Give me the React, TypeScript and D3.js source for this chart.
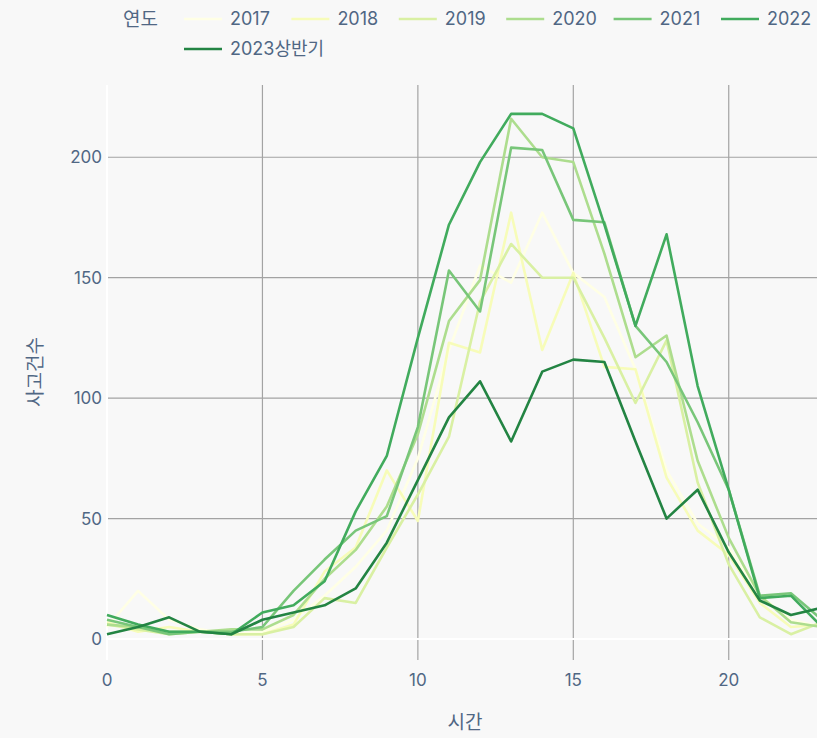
import React from "react";
import * as d3 from "d3";

const hours = d3.range(0, 24);
const years = ["2017", "2018", "2019", "2020", "2021", "2022", "2023상반기"];
const colors = ["#ffffe5", "#f7fcb9", "#d9f0a3", "#addd8e", "#78c679", "#41ab5d", "#238443"];

const v2017 = [5, 20, 8, 4, 2, 3, 8, 18, 30, 45, 75, 120, 155, 148, 177, 152, 142, 112, 70, 48, 38, 18, 8, 5];
const v2018 = [7, 3, 5, 3, 2, 2, 6, 28, 38, 70, 49, 123, 119, 177, 120, 152, 113, 112, 67, 45, 35, 15, 5, 6];
const v2019 = [6, 4, 2, 3, 2, 2, 5, 17, 15, 38, 60, 84, 140, 164, 150, 150, 125, 98, 124, 65, 31, 9, 2, 7];
const v2020 = [6, 5, 3, 3, 4, 4, 10, 25, 37, 55, 85, 132, 149, 216, 200, 198, 160, 117, 126, 74, 42, 18, 7, 5];
const v2021 = [8, 5, 2, 3, 3, 5, 20, 33, 45, 51, 88, 153, 136, 204, 203, 174, 173, 130, 115, 90, 62, 18, 19, 8];
const v2022 = [10, 6, 3, 3, 2, 11, 14, 24, 53, 76, 125, 172, 198, 218, 218, 212, 172, 130, 168, 105, 62, 17, 18, 5];
const v2023 = [2, 5, 9, 3, 2, 8, 11, 14, 21, 40, 66, 92, 107, 82, 111, 116, 115, 82, 50, 62, 36, 16, 10, 13];
const seriesValues = [v2017, v2018, v2019, v2020, v2021, v2022, v2023];

const xTicks = [0, 5, 10, 15, 20];
const yTicks = [0, 50, 100, 150, 200];

const W = 817;
const H = 738;
const FONT = "Inter, 'Noto Sans CJK KR', sans-serif";
const TXT = "#506784";

export default function App() {
  const x = d3.scaleLinear().domain([0, 23]).range([107, 822]);
  const y = d3.scaleLinear().domain([-8.7, 230]).range([660, 85]);
  const line = d3
    .line<number>()
    .x((_, i) => x(hours[i]))
    .y((d) => y(d));

  const legendRow1 = years.slice(0, 6);
  return (
    <div style={{ position: "fixed", left: 0, top: 0, width: W, height: H, overflow: "hidden", background: "#f8f8f8" }}>
      <svg width={W} height={H} style={{ display: "block", fontFamily: FONT }}>
        <rect x={0} y={0} width={W} height={H} fill="#f8f8f8" />
        {xTicks.filter((t) => t !== 0).map((t) => (
          <line key={"gx" + t} x1={x(t)} x2={x(t)} y1={85} y2={660} stroke="#a3a3a3" strokeWidth={1.2} />
        ))}
        {yTicks.filter((t) => t !== 0).map((t) => (
          <line key={"gy" + t} x1={107} x2={W} y1={y(t)} y2={y(t)} stroke="#a3a3a3" strokeWidth={1.2} />
        ))}
        <line x1={x(0)} x2={x(0)} y1={85} y2={660} stroke="#ffffff" strokeWidth={2} />
        <line x1={107} x2={W} y1={y(0)} y2={y(0)} stroke="#ffffff" strokeWidth={2} />
        {seriesValues.map((vals, i) => (
          <path key={years[i]} d={line(vals) || ""} fill="none" stroke={colors[i]} strokeWidth={2.6} strokeLinejoin="round" />
        ))}
        {yTicks.map((t) => (
          <text key={"ty" + t} x={102} y={y(t)} dy="0.35em" textAnchor="end" fontSize={17} fill={TXT}>
            {t}
          </text>
        ))}
        {xTicks.map((t) => (
          <text key={"tx" + t} x={x(t)} y={680} dy="0.35em" textAnchor="middle" fontSize={17} fill={TXT}>
            {t}
          </text>
        ))}
        <text x={465} y={722} dy="0.35em" textAnchor="middle" fontSize={19} fill={TXT}>
          시간
        </text>
        <text transform={`translate(35, 372) rotate(-90)`} dy="0.35em" textAnchor="middle" fontSize={19} fill={TXT}>
          사고건수
        </text>
        <text x={123} y={19} dy="0.35em" fontSize={19} fill={TXT}>
          연도
        </text>
        {legendRow1.map((yr, i) => {
          const lx = 184 + i * 107.4;
          return (
            <g key={"lg" + yr}>
              <line x1={lx} x2={lx + 38} y1={19} y2={19} stroke={colors[i]} strokeWidth={2.6} />
              <text x={lx + 46} y={19} dy="0.35em" fontSize={18} fill={TXT}>
                {yr}
              </text>
            </g>
          );
        })}
        <line x1={184} x2={222} y1={49} y2={49} stroke={colors[6]} strokeWidth={2.6} />
        <text x={230} y={49} dy="0.35em" fontSize={18} fill={TXT}>
          {years[6]}
        </text>
      </svg>
    </div>
  );
}
